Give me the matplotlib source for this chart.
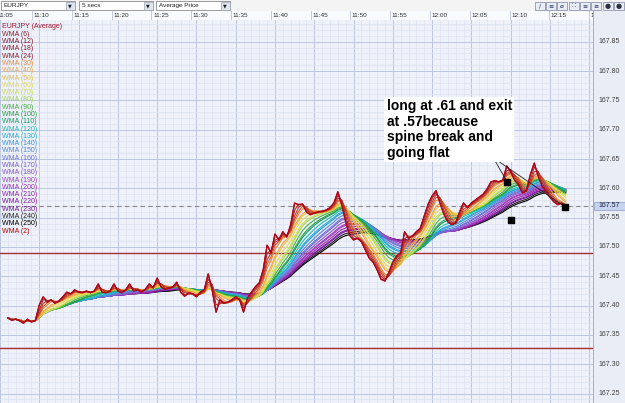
import matplotlib
matplotlib.use('Agg')
import matplotlib.pyplot as plt
from matplotlib.patches import Rectangle
import numpy as np

plt.rcParams['font.family'] = ['Liberation Sans', 'DejaVu Sans']

# EURJPY average price, one reading every 30 s starting 11:06
start_min = 6.0
step_min = 0.5
bar_secs = 5
price = [
    167.379, 167.375, 167.377, 167.374, 167.370, 167.377, 167.372, 167.375,
    167.401, 167.415, 167.406, 167.410, 167.404, 167.408, 167.415, 167.423,
    167.420, 167.427, 167.423, 167.422, 167.425, 167.422, 167.425, 167.437,
    167.423, 167.422, 167.425, 167.437, 167.425, 167.422, 167.427, 167.437,
    167.425, 167.427, 167.423, 167.428, 167.437, 167.430, 167.447, 167.432,
    167.428, 167.430, 167.432, 167.440, 167.423, 167.416, 167.422, 167.420,
    167.415, 167.423, 167.427, 167.454, 167.427, 167.389, 167.410, 167.404,
    167.406, 167.410, 167.415, 167.410, 167.389, 167.413, 167.423, 167.432,
    167.439, 167.461, 167.503, 167.490, 167.522, 167.512, 167.526, 167.517,
    167.538, 167.575, 167.572, 167.573, 167.560, 167.555, 167.558, 167.560,
    167.561, 167.563, 167.567, 167.575, 167.594, 167.572, 167.543, 167.520,
    167.512, 167.515, 167.509, 167.495, 167.481, 167.474, 167.461, 167.445,
    167.442, 167.457, 167.474, 167.485, 167.490, 167.526, 167.515, 167.519,
    167.526, 167.532, 167.553, 167.573, 167.587, 167.596, 167.575, 167.556,
    167.543, 167.538, 167.541, 167.560, 167.575, 167.567, 167.575, 167.580,
    167.585, 167.590, 167.599, 167.611, 167.613, 167.611, 167.614, 167.638,
    167.628, 167.614, 167.606, 167.592, 167.596, 167.623, 167.643, 167.621,
    167.604, 167.594, 167.585, 167.577, 167.572, 167.575, 167.568,
]

wma_periods = [6, 12, 18, 24, 30, 40, 50, 60, 70, 80, 90, 100, 110, 120,
               130, 140, 150, 160, 170, 180, 190, 200, 210, 220, 230, 240,
               250, 2]
wma_colors = ['#a01e2c', '#b02a28', '#c03c28', '#d05a2a', '#e88a3c',
              '#f0a840', '#ecc444', '#e4dc50', '#cce050', '#a8d450',
              '#48b040', '#28a040', '#14a060', '#22bcb0', '#22aed0',
              '#3496dc', '#5a86dc', '#6c74d8', '#7c62d0', '#8c54c8',
              '#a040c0', '#a032b0', '#9424a8', '#841aa0', '#701898',
              '#202020', '#000000', '#c00000']
price_color = '#a01030'

time_ticks = [5, 10, 15, 20, 25, 30, 35, 40, 45, 50, 55, 60, 65, 70, 75, 80]
time_labels = ['11:05', '11:10', '11:15', '11:20', '11:25', '11:30', '11:35',
               '11:40', '11:45', '11:50', '11:55', '12:00', '12:05', '12:10',
               '12:15', '12:20']
price_ticks = [167.25, 167.30, 167.35, 167.40, 167.45, 167.50, 167.55,
               167.60, 167.65, 167.70, 167.75, 167.80, 167.85]
last_price = 167.57
level_lines = [167.49, 167.328]

trade_t = [69.55, 70.05, 76.96]
trade_p = [167.611, 167.546, 167.568]
note_xy = (54.2, 167.7525)
pointer_from = (67.8, 167.652)
note = 'long at .61 and exit\nat .57because\nspine break and\ngoing flat'


def wma(values, n):
    out = np.empty(len(values))
    for i in range(len(values)):
        w = np.arange(1, min(n, i + 1) + 1)
        out[i] = np.dot(values[i + 1 - len(w):i + 1], w) / w.sum()
    return out


W, H = 625, 403
fig = plt.figure(figsize=(W / 100, H / 100), dpi=100)
fig.patch.set_facecolor('#f4f4f4')

xlim = (5.98, 80.48)
ylim = (167.234, 167.887)

ax = fig.add_axes([0, 0, 593 / W, 383 / H])
ax.set_facecolor('#eef1fa')
ax.set_xlim(xlim)
ax.set_ylim(ylim)
ax.set_xticks(time_ticks)
ax.set_xticks(np.arange(6, 81, 1), minor=True)
ax.set_yticks(price_ticks)
ax.set_yticks(np.arange(167.24, 167.89, 0.01), minor=True)
ax.grid(which='minor', color='#dce2f1', lw=0.5)
ax.grid(which='major', color='#bcc7df', lw=0.7)
ax.tick_params(which='both', length=0, labelbottom=False, labelleft=False)
for s in ax.spines.values():
    s.set_visible(False)

t = start_min + step_min * np.arange(len(price))
p = np.array(price)

for lv in level_lines:
    ax.axhline(lv, color='#a83030', lw=1.0, zorder=2)
ax.axhline(last_price, color='#8a8a8a', lw=0.8, ls=(0, (4, 3)), zorder=2)

lines = list(zip(wma_periods, wma_colors))
for period, col in reversed(lines[:-1]):
    n = max(1, round(period * bar_secs / (step_min * 60)))
    ax.plot(t, wma(p, n), color=col, lw=0.8, zorder=3)
ax.plot(t, p, color=price_color, lw=1.0, zorder=4)
ax.plot(t, p, color=wma_colors[-1], lw=0.5, zorder=4)

ax.scatter(trade_t, trade_p, marker='s', s=14, color='black', zorder=6)
for k in (0, 2):
    ax.annotate('', xy=(trade_t[k], trade_p[k]), xytext=pointer_from,
                arrowprops=dict(arrowstyle='-', lw=0.6, color='#202020',
                                shrinkA=0, shrinkB=0), zorder=5)
ax.text(note_xy[0], note_xy[1], note, fontsize=10, fontweight='bold',
        va='top', ha='left', linespacing=1.15, zorder=7,
        bbox=dict(facecolor='white', edgecolor='none', pad=1.5))

# legend column
legend_names = ['EURJPY (Average)'] + ['WMA (%d)' % q for q in wma_periods]
legend_cols = [price_color] + wma_colors
legend_cols[1:5] = ['#8b1c2c'] * 4
for i, (name, col) in enumerate(zip(legend_names, legend_cols)):
    y = 27 + i * 7.29
    fig.text(2 / W, 1 - y / H, name, fontsize=5.0, color=col, va='center',
             ha='left')

# time strip
axt = fig.add_axes([0, 383 / H, 593 / W, 9 / H])
axt.set_facecolor('#f9fafd')
axt.set_xlim(xlim)
axt.set_ylim(0, 1)
axt.set_xticks([])
axt.set_yticks([])
for s in axt.spines.values():
    s.set_visible(False)
for tk, lab in zip(time_ticks, time_labels):
    axt.axvline(tk, color='#c3cad8', lw=0.7)
    axt.text(max(tk + 0.2, xlim[0] - 0.35), 0.45, lab, fontsize=4.6,
             color='#303030', va='center', ha='left', clip_on=True)

# price scale
axr = fig.add_axes([593 / W, 0, 32 / W, 392 / H])
axr.set_facecolor('#e9edf6')
axr.set_xlim(0, 1)
axr.set_ylim(ylim[0], ylim[0] + (ylim[1] - ylim[0]) * 392 / 383)
axr.set_xticks([])
axr.set_yticks([])
for s in axr.spines.values():
    s.set_visible(False)
axr.axvline(0, color='#9aa4bc', lw=1.2)
for pt in price_ticks:
    axr.text(0.16, pt, '%.2f' % pt, fontsize=5, color='#404040', va='center')
axr.add_patch(Rectangle((0.03, last_price - 0.007), 0.97, 0.014,
                        facecolor='#c6d4f0', edgecolor='#8c9cc8', lw=0.5))
axr.text(0.16, last_price, '%.2f' % last_price, fontsize=5, color='#202040',
         va='center')

# toolbar
axb = fig.add_axes([0, 392 / H, 1, 11 / H])
axb.set_facecolor('#f4f4f4')
axb.set_xlim(0, W)
axb.set_ylim(11, 0)
axb.set_xticks([])
axb.set_yticks([])
for s in axb.spines.values():
    s.set_visible(False)
for x0, x1, lab in [(1, 75, 'EURJPY'), (79, 153, '5 secs'),
                    (156, 230, 'Average Price')]:
    axb.add_patch(Rectangle((x0, 1), x1 - x0, 9, facecolor='white',
                            edgecolor='#8c8c8c', lw=0.6))
    axb.add_patch(Rectangle((x1 - 9, 1.5), 8.5, 8, facecolor='#dfe4ee',
                            edgecolor='#9aa0b0', lw=0.5))
    axb.text(x0 + 3, 5.7, lab, fontsize=4.6, color='#202020', va='center')
    axb.text(x1 - 4.8, 5.7, '\u25bc', fontsize=3.5, color='#202020',
             va='center', ha='center', family='DejaVu Sans')
for gx, glyphs in [(535, ['/', '\u2261', '\u00f8']),
                   (569, ['\u2237', '\u2261', '\u2261'])]:
    for j, g in enumerate(glyphs):
        axb.add_patch(Rectangle((gx + j * 11, 2), 10, 8, facecolor='#e8ecf4',
                                edgecolor='#7c86a0', lw=0.5))
        axb.text(gx + j * 11 + 5, 6, g, fontsize=4.5, color='#203060',
                 va='center', ha='center', family='DejaVu Sans')
for j in range(2):
    axb.add_patch(Rectangle((603 + j * 11, 2), 10, 8, facecolor='#e8ecf4',
                            edgecolor='#7c86a0', lw=0.5))
    axb.text(608 + j * 11, 6, '\u25cf', fontsize=5, color='#303040',
             va='center', ha='center', family='DejaVu Sans')

fig.savefig('out.png', dpi=100)
